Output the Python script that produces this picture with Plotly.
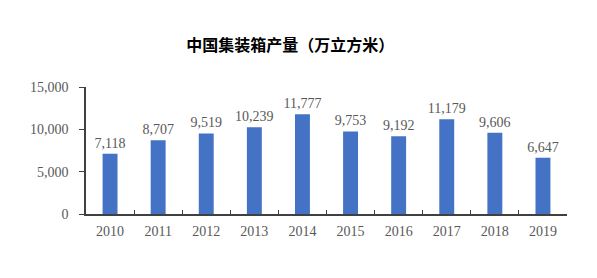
import plotly.graph_objects as go

years = ["2010", "2011", "2012", "2013", "2014", "2015", "2016", "2017", "2018", "2019"]
output = [7118, 8707, 9519, 10239, 11777, 9753, 9192, 11179, 9606, 6647]
y_ticks = [0, 5000, 10000, 15000]
title_text = "中国集装箱产量（万立方米）"

serif = "Liberation Serif, Times New Roman, serif"
gray = "#595959"

fig = go.Figure(go.Bar(
    x=years, y=output,
    marker=dict(color="#4472C4", line=dict(width=0)),
    text=output, texttemplate="%{y:,}", textposition="outside",
    textfont=dict(family=serif, size=14, color=gray),
    constraintext="none",
    cliponaxis=False,
))

fig.update_layout(
    width=597, height=278,
    margin=dict(l=86, r=30, t=87, b=64),
    paper_bgcolor="white", plot_bgcolor="white",
    bargap=0.69,
    showlegend=False,
    title=dict(text=f"<b>{title_text}</b>", x=0.486, xanchor="center",
               y=1 - 45 / 278, yanchor="middle",
               font=dict(family="Noto Sans CJK SC", size=16, color="#000000")),
)
fig.update_xaxes(
    type="category", showline=True, linecolor="#404040", linewidth=1.5,
    ticks="inside", tickson="boundaries", ticklen=4, tickcolor="#404040",
    tickfont=dict(family=serif, size=14, color=gray), showgrid=False,
    ticklabelstandoff=3,
)
fig.update_yaxes(
    range=[0, 15000], tickvals=y_ticks, tickformat=",",
    showline=True, linecolor="#404040", linewidth=1.5,
    ticks="outside", ticklen=5, tickcolor="#404040",
    tickfont=dict(family=serif, size=14, color=gray),
    showgrid=False, zeroline=False, ticklabelstandoff=8,
)

fig.write_html("out.html")
